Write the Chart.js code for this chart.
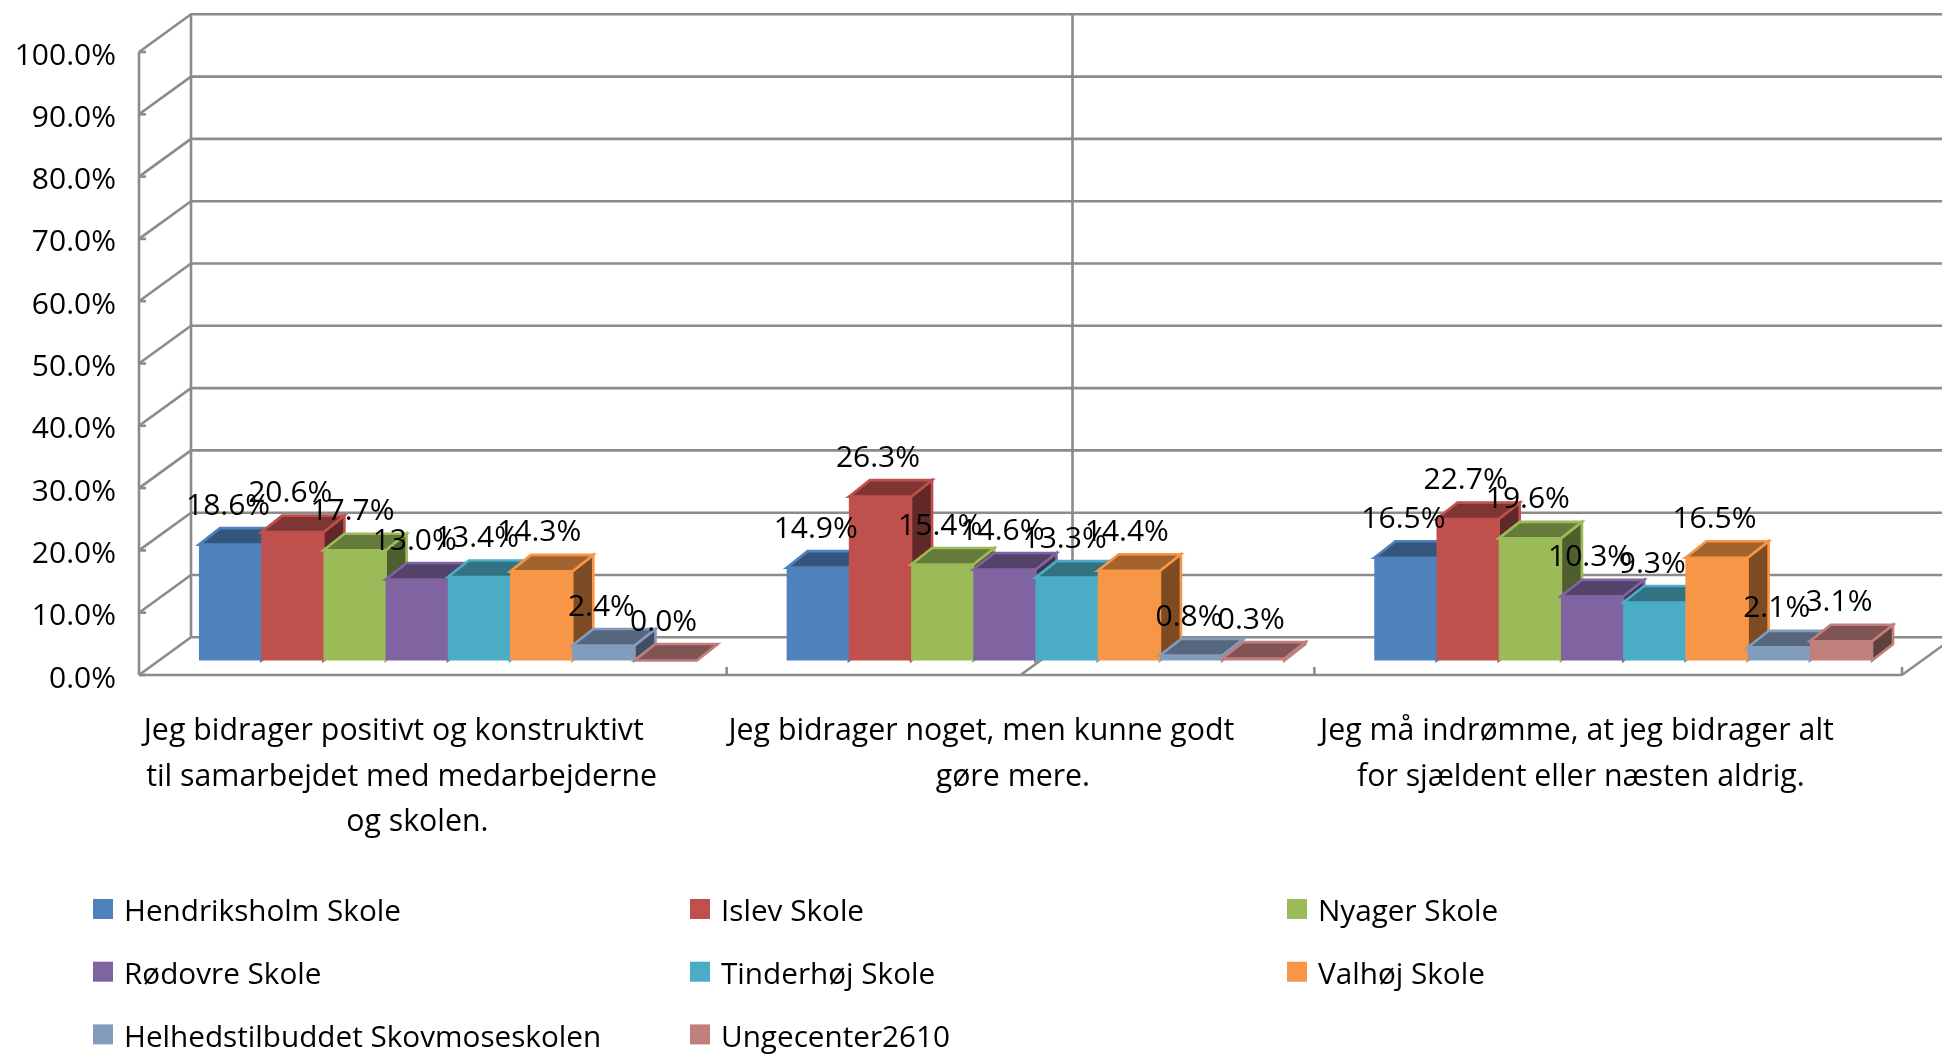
<!DOCTYPE html>
<html><head><meta charset="utf-8">
<style>html,body{margin:0;padding:0;background:#fff}#w{width:1942px;height:1054px;position:relative}canvas{display:block}</style>
<script src="https://cdn.jsdelivr.net/npm/chart.js@4"></script>
</head><body><div id="w"><canvas id="c" width="1942" height="1054"></canvas></div>
<script>
const categories = [
  ['Jeg bidrager positivt og konstruktivt      ', 'til samarbejdet med medarbejderne    ', 'og skolen.'],
  ['Jeg bidrager noget, men kunne godt      ', '  gøre mere.'],
  ['Jeg må indrømme, at jeg bidrager alt    ', 'for sjældent eller næsten aldrig.   ']
];
const hendriksholm = [18.6, 14.9, 16.5];
const islev = [20.6, 26.3, 22.7];
const nyager = [17.7, 15.4, 19.6];
const roedovre = [13.0, 14.6, 10.3];
const tinderhoej = [13.4, 13.3, 9.3];
const valhoej = [14.3, 14.4, 16.5];
const helhed = [2.4, 0.8, 2.1];
const ungecenter = [0.0, 0.3, 3.1];
const seriesNames = ['Hendriksholm Skole','Islev Skole','Nyager Skole','Rødovre Skole','Tinderhøj Skole','Valhøj Skole','Helhedstilbuddet Skovmoseskolen','Ungecenter2610'];
const seriesValues = [hendriksholm, islev, nyager, roedovre, tinderhoej, valhoej, helhed, ungecenter];
const seriesColors = ['#4F81BD','#C0504D','#9BBB59','#8064A2','#4BACC6','#F79646','#829CBD','#C07F7D'];
const FONT = '"Open Sans"';
const LINE = '#8b8b8b';
const WALL = {dx: 52, dy: 37.7};
const BAR_SHIFT = {x: 15, y: -14.5};
const BAR_DEPTH = {dx: 21, dy: 16.5};

function shade(hex, f){
  const n = parseInt(hex.slice(1), 16);
  return 'rgb(' + [(n>>16)&255,(n>>8)&255,n&255].map(v => Math.round(v*f)).join(',') + ')';
}

const wallsPlugin = {
  id: 'walls',
  beforeDatasetsDraw(chart){
    const {ctx, scales:{x, y}} = chart;
    const line = (pts, w) => {
      ctx.beginPath(); pts.forEach((p,i)=> i?ctx.lineTo(p[0],p[1]):ctx.moveTo(p[0],p[1]));
      ctx.lineWidth = w || 2.6; ctx.strokeStyle = LINE; ctx.stroke();
    };
    ctx.save();
    const L = x.left, R = x.right, bx = L + WALL.dx;
    y.ticks.forEach(t => {
      const py = y.getPixelForValue(t.value);
      line([[L,py],[bx,py-WALL.dy],[chart.width+4,py-WALL.dy]]);
      line([[L,py],[L+7,py]]);
    });
    const y0 = y.getPixelForValue(0), y100 = y.getPixelForValue(100);
    line([[L,y100],[L,y0]]);
    line([[bx,y100-WALL.dy],[bx,y0-WALL.dy]]);
    line([[L,y0],[R,y0]]);
    const cw = (R-L)/categories.length;
    for(let i=1;i<=categories.length;i++){ line([[L+i*cw,y0-8],[L+i*cw,y0]]); }
    line([[R,y0],[R+WALL.dx,y0-WALL.dy]]);
    const mx = x.getPixelForValue(1);
    line([[mx,y0],[mx+WALL.dx,y0-WALL.dy],[mx+WALL.dx,y100-WALL.dy]]);
    ctx.restore();

    // bars, painted left to right so that each one covers its neighbour's side
    ctx.save();
    ctx.translate(BAR_SHIFT.x, BAR_SHIFT.y);
    chart.data.labels.forEach((_, c) => {
      chart.data.datasets.forEach((ds, d) => {
        const el = chart.getDatasetMeta(d).data[c];
        const col = seriesColors[d];
        const hw = el.width/2, l = el.x-hw, r = el.x+hw, t = el.y, b = el.base;
        const {dx, dy} = BAR_DEPTH;
        ctx.lineJoin = 'miter'; ctx.lineWidth = 2.6; ctx.strokeStyle = col;
        ctx.beginPath(); ctx.moveTo(r,t); ctx.lineTo(r+dx,t-dy); ctx.lineTo(r+dx,b-dy); ctx.lineTo(r,b); ctx.closePath();
        ctx.fillStyle = shade(col,.5); ctx.fill(); ctx.stroke();
        ctx.beginPath(); ctx.moveTo(l,t); ctx.lineTo(l+dx,t-dy); ctx.lineTo(r+dx,t-dy); ctx.lineTo(r,t); ctx.closePath();
        ctx.fillStyle = shade(col,.66); ctx.fill(); ctx.stroke();
        el.draw(ctx);
      });
    });
    ctx.restore();
  },
  beforeDatasetDraw(){ return false; },
  afterDatasetsDraw(chart){
    const {ctx} = chart;
    ctx.save();
    ctx.font = '30px ' + FONT; ctx.fillStyle = '#000'; ctx.textAlign = 'center'; ctx.textBaseline = 'middle';
    chart.data.datasets.forEach((ds, d) => {
      chart.getDatasetMeta(d).data.forEach((el, c) => {
        ctx.fillText(ds.data[c].toFixed(1) + '%', el.x + 13, el.y + BAR_SHIFT.y - 38.5);
      });
    });
    ctx.restore();
  },
  afterDraw(chart){
    const {ctx} = chart;
    ctx.save();
    ctx.font = '29.7px ' + FONT; ctx.textAlign = 'left'; ctx.textBaseline = 'middle';
    chart.data.datasets.forEach((ds, i) => {
      const col = i % 3, row = Math.floor(i / 3);
      const sx = 93 + col*597, sy = 899 + row*62.7;
      ctx.fillStyle = seriesColors[i]; ctx.fillRect(sx, sy, 20, 20);
      ctx.fillStyle = '#000'; ctx.fillText(ds.label, sx + 31, sy + 14);
    });
    ctx.restore();
  }
};

new Chart(document.getElementById('c'), {
  type: 'bar',
  data: {
    labels: categories,
    datasets: seriesNames.map((n,i)=>({label:n, data:seriesValues[i], backgroundColor:seriesColors[i], borderWidth:0,
      categoryPercentage:0.847, barPercentage:1}))
  },
  options: {
    responsive:false, animation:false,
    layout:{padding:{top:52,right:40,left:0,bottom:0}},
    plugins:{legend:{display:false}, tooltip:{enabled:false}},
    scales:{
      x:{
        grid:{display:false}, border:{display:false},
        ticks:{color:'#000', font:{family:FONT,size:30.3,lineHeight:1.5}, maxRotation:0, minRotation:0, autoSkip:false, padding:26, labelOffset:-15.5},
        afterFit(s){ s.height = 379; }
      },
      y:{
        min:0, max:100,
        grid:{display:false}, border:{display:false},
        ticks:{stepSize:10, color:'#000', font:{family:FONT,size:30}, padding:15, labelOffset:4, callback:v=>v.toFixed(1)+'%'},
        afterFit(s){ s.width = 139; }
      }
    }
  },
  plugins:[wallsPlugin]
});
</script></body></html>
